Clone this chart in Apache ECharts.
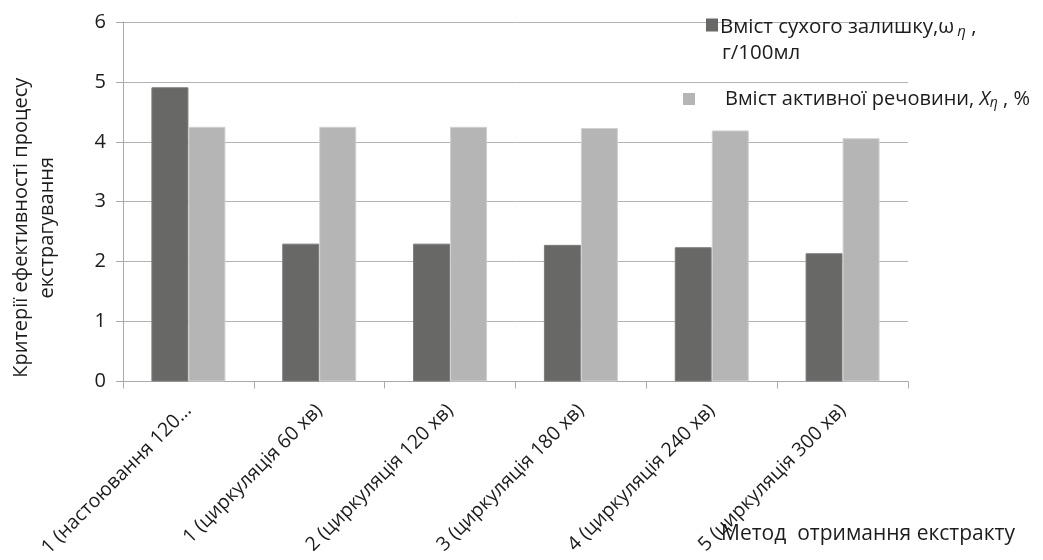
<!DOCTYPE html>
<html>
<head>
<meta charset="utf-8">
<script src="https://cdn.jsdelivr.net/npm/echarts@6/dist/echarts.min.js"></script>
<style>html,body{margin:0;padding:0;background:#fff;}#c{width:1043px;height:560px;}</style>
</head>
<body>
<div id="c"></div>
<script>
const categories = ["1 (настоювання 120…", "1 (циркуляція 60 хв)", "2 (циркуляція 120 хв)", "3 (циркуляція 180 хв)", "4 (циркуляція 240 хв)", "5 (циркуляція 300 хв)"];
const dryResidue = [4.91, 2.30, 2.30, 2.28, 2.24, 2.14];
const activeSubstance = [4.25, 4.25, 4.25, 4.23, 4.19, 4.06];
const seriesNames = ["Вміст сухого залишку", "Вміст активної речовини"];
const yTicks = [0, 1, 2, 3, 4, 5, 6];
const xAxisName = 'Метод  отримання екстракту';

const FONT = "Open Sans";
const TXT = '#1c1c1c';
const chart = echarts.init(document.getElementById('c'));
chart.setOption({
  animation: false,
  grid: {left: 123, right: 135, top: 22, bottom: 178},
  legend: [
    {
      data: [seriesNames[0]], left: 701, top: 12, orient: 'vertical',
      itemWidth: 12, itemHeight: 13, icon: 'rect',
      formatter: () => '{a|Вміст сухого залишку,ω}{s|η}{a| ,}',
      textStyle: {
        fontFamily: FONT, color: TXT, padding: [5, 0, 0, -3],
        rich: {
          a: {fontFamily: FONT, fontSize: 20.5, color: TXT, lineHeight: 26},
          s: {fontFamily: FONT, fontSize: 15, fontStyle: 'italic', color: TXT, padding: [9, 0, 0, 3]}
        }
      },
      itemStyle: {borderWidth: 0}
    },
    {
      data: [seriesNames[1]], left: 678, top: 84, orient: 'vertical',
      itemWidth: 12, itemHeight: 12, icon: 'rect',
      formatter: () => '{a|Вміст активної речовини, }{x|X}{s|η}{a| , %}',
      textStyle: {
        fontFamily: FONT, color: TXT, padding: [0, 0, 0, 25],
        rich: {
          a: {fontFamily: FONT, fontSize: 20, color: TXT, lineHeight: 26},
          x: {fontFamily: FONT, fontSize: 20, fontStyle: 'italic', color: TXT, lineHeight: 26},
          s: {fontFamily: FONT, fontSize: 14, fontStyle: 'italic', color: TXT, padding: [9, 0, 0, 0]}
        }
      },
      itemStyle: {borderWidth: 0}
    }
  ],
  graphic: [
    {type: 'text', left: 722, top: 43, style: {text: 'г/100мл', font: '20.5px "Open Sans"', fill: TXT}},
    {type: 'text', right: 28, top: 524, style: {text: xAxisName, font: '21px "Open Sans"', fill: TXT}}
  ],
  xAxis: {
    type: 'category',
    data: categories,
    axisLine: {lineStyle: {color: '#a9a9a9', width: 1}},
    axisTick: {show: true, length: 7, lineStyle: {color: '#a9a9a9'}},
    axisLabel: {rotate: 45, fontFamily: FONT, fontSize: 19.5, color: TXT, margin: 26, interval: 0},
    splitLine: {show: false}
  },
  yAxis: {
    type: 'value',
    min: 0, max: 6, interval: 1,
    name: 'Критерії ефективності процесу\nекстрагування',
    nameLocation: 'middle',
    nameGap: 63,
    nameTextStyle: {fontFamily: FONT, fontSize: 20, color: TXT, lineHeight: 26, padding: [0, 52, 0, 0]},
    axisLine: {show: true, lineStyle: {color: '#a9a9a9', width: 1}},
    axisTick: {show: true, length: 7, lineStyle: {color: '#a9a9a9'}},
    axisLabel: {fontFamily: FONT, fontSize: 20, color: TXT, margin: 17,
      formatter: v => yTicks.includes(v) ? String(v) : ''},
    splitLine: {lineStyle: {color: '#b3b3b3', width: 1}}
  },
  series: [
    {
      name: seriesNames[0], type: 'bar', data: dryResidue,
      barWidth: 37, barGap: '0%',
      itemStyle: {color: '#686866', borderColor: '#7a7a78', borderWidth: 1}
    },
    {
      name: seriesNames[1], type: 'bar', data: activeSubstance,
      barWidth: 37, barGap: '0%',
      itemStyle: {color: '#b4b5b4', borderColor: '#cfd0cf', borderWidth: 1}
    }
  ]
});
</script>
</body>
</html>
